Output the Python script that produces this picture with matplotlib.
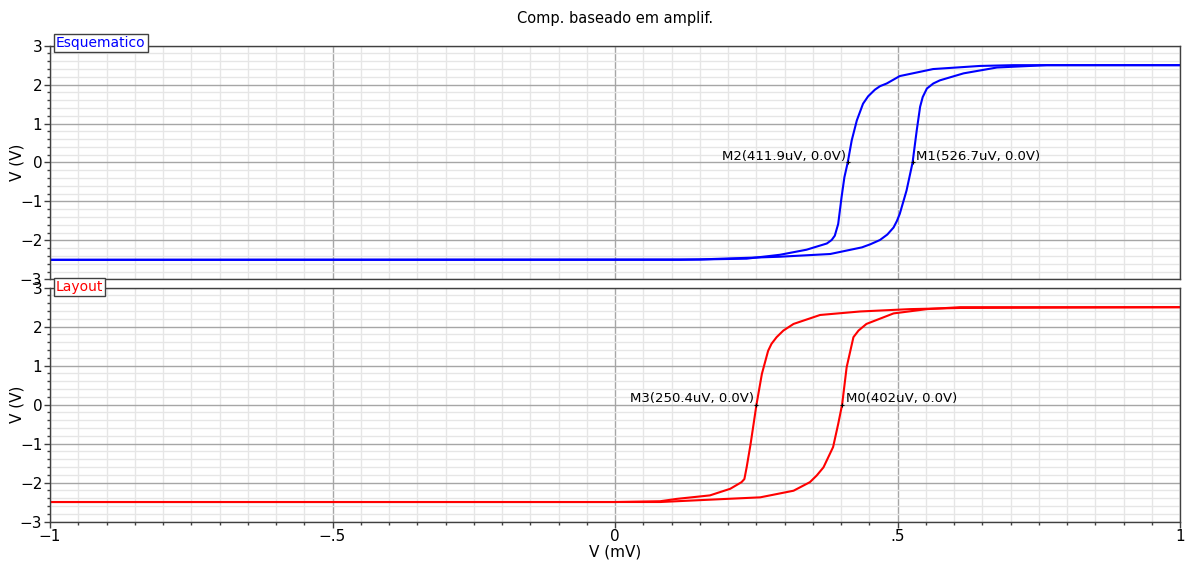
import matplotlib
matplotlib.use('Agg')
import matplotlib.pyplot as plt
from matplotlib.ticker import MultipleLocator, FixedLocator, FixedFormatter

# ---- data ----
title = "Comp. baseado em amplif."
x_label = "V (mV)"
y_label = "V (V)"

x_ticks = [-1.0, -0.5, 0.0, 0.5, 1.0]
x_tick_labels = ["\u22121", "\u2212.5", "0", ".5", "1"]
y_ticks = [-3, -2, -1, 0, 1, 2, 3]
y_tick_labels = ["\u22123", "\u22122", "\u22121", "0", "1", "2", "3"]

# Esquematico (blue) - rising branch (M1)
esq_rise_x = [-1.0, 0.15, 0.292, 0.381, 0.437, 0.452, 0.469, 0.482, 0.493, 0.499, 0.504,
              0.516, 0.5267, 0.534, 0.540, 0.5446, 0.552, 0.5634, 0.575, 0.617, 0.676,
              0.764, 1.0]
esq_rise_y = [-2.5, -2.49, -2.42, -2.35, -2.18, -2.10, -1.99, -1.85, -1.67, -1.50, -1.32,
              -0.72, 0.0, 0.82, 1.43, 1.68, 1.90, 2.03, 2.11, 2.29, 2.44,
              2.5, 2.5]
# Esquematico (blue) - falling branch (M2)
esq_fall_x = [-1.0, 0.115, 0.233, 0.292, 0.339, 0.375, 0.3835, 0.389, 0.395, 0.401, 0.406,
              0.4119, 0.419, 0.428, 0.439, 0.448, 0.460, 0.469, 0.481, 0.504, 0.563,
              0.646, 0.705, 1.0]
esq_fall_y = [-2.5, -2.5, -2.47, -2.37, -2.24, -2.08, -1.99, -1.88, -1.58, -0.89, -0.38,
              0.0, 0.57, 1.08, 1.51, 1.70, 1.87, 1.96, 2.03, 2.22, 2.40,
              2.48, 2.5, 2.5]

# Layout (red) - left branch (M3)
lay_left_x = [-1.0, 0.0, 0.08, 0.109, 0.168, 0.204, 0.224, 0.229, 0.233, 0.240, 0.2504,
              0.260, 0.271, 0.277, 0.286, 0.298, 0.316, 0.363, 0.434, 0.522, 0.611, 1.0]
lay_left_y = [-2.5, -2.5, -2.48, -2.42, -2.33, -2.16, -1.99, -1.91, -1.61, -1.01, 0.0,
              0.79, 1.38, 1.56, 1.73, 1.90, 2.07, 2.30, 2.39, 2.45, 2.48, 2.5]
# Layout (red) - right branch (M0)
lay_right_x = [-1.0, 0.08, 0.168, 0.257, 0.316, 0.345, 0.357, 0.369, 0.386, 0.395, 0.402,
               0.410, 0.422, 0.431, 0.445, 0.493, 0.552, 0.611, 1.0]
lay_right_y = [-2.5, -2.5, -2.44, -2.38, -2.21, -1.99, -1.82, -1.61, -1.09, -0.50, 0.0,
               0.96, 1.73, 1.90, 2.07, 2.34, 2.45, 2.5, 2.5]

# markers: (label, x in mV, y in V, label side)
esq_markers = [("M2(411.9uV, 0.0V)", 0.4119, 0.0, "left"),
               ("M1(526.7uV, 0.0V)", 0.5267, 0.0, "right")]
lay_markers = [("M3(250.4uV, 0.0V)", 0.2504, 0.0, "left"),
               ("M0(402uV, 0.0V)", 0.402, 0.0, "right")]

plt.rcParams['font.family'] = ['DejaVu Sans']

fig = plt.figure(figsize=(11.95, 5.63), dpi=100)
ax1 = fig.add_axes([50 / 1195, 1 - 279.3 / 563, 1130 / 1195, (279.3 - 45.7) / 563])
ax2 = fig.add_axes([50 / 1195, 1 - 521.5 / 563, 1130 / 1195, (521.5 - 287.7) / 563])

spine_col = '#404040'


def style(ax, show_x):
    ax.set_xlim(-1, 1)
    ax.set_ylim(-3, 3)
    ax.xaxis.set_major_locator(FixedLocator(x_ticks))
    ax.xaxis.set_minor_locator(MultipleLocator(0.05))
    ax.yaxis.set_major_locator(FixedLocator(y_ticks))
    ax.yaxis.set_major_formatter(FixedFormatter(y_tick_labels))
    ax.yaxis.set_minor_locator(MultipleLocator(0.2))
    ax.grid(which='minor', color='#e6e6e6', lw=1.0)
    ax.grid(which='major', color='#a6a6a6', lw=1.0)
    ax.set_axisbelow(True)
    for s in ax.spines.values():
        s.set_color(spine_col)
        s.set_linewidth(1.0)
    ax.tick_params(which='major', direction='out', length=4, width=1, color=spine_col,
                   labelsize=11, pad=1.5)
    ax.tick_params(which='minor', direction='out', length=2.5, width=1, color=spine_col)
    if show_x:
        ax.xaxis.set_major_formatter(FixedFormatter(x_tick_labels))
    else:
        ax.tick_params(axis='x', which='both', bottom=False, labelbottom=False)
    ax.set_ylabel(y_label, fontsize=11)
    ax.yaxis.set_label_coords(-0.0225, 0.5)


style(ax1, False)
style(ax2, True)

ax1.plot(esq_rise_x, esq_rise_y, color='#0000ff', lw=1.5)
ax1.plot(esq_fall_x, esq_fall_y, color='#0000ff', lw=1.5)
ax2.plot(lay_left_x, lay_left_y, color='#ff0000', lw=1.5)
ax2.plot(lay_right_x, lay_right_y, color='#ff0000', lw=1.5)


def markers(ax, mk):
    for name, mx, my, side in mk:
        ax.plot([mx], [my], marker='+', color='black', ms=3, mew=0.8)
        if side == "left":
            ax.annotate(name, xy=(mx, my), xytext=(-1.5, 2), textcoords='offset points',
                        ha='right', va='baseline', fontsize=9.5, color='black')
        else:
            ax.annotate(name, xy=(mx, my), xytext=(2.5, 2), textcoords='offset points',
                        ha='left', va='baseline', fontsize=9.5, color='black')


markers(ax1, esq_markers)
markers(ax2, lay_markers)

# tabs
ax1.annotate("Esquematico", xy=(0, 1), xycoords='axes fraction', xytext=(4.2, -1.2),
             textcoords='offset points', ha='left', va='baseline', color='#0000ff',
             fontsize=10, annotation_clip=False, zorder=10,
             bbox=dict(boxstyle='square,pad=0.15', fc='white', ec=spine_col, lw=1.0))
ax2.annotate("Layout", xy=(0, 1), xycoords='axes fraction', xytext=(4.2, -2.2),
             textcoords='offset points', ha='left', va='baseline', color='#ff0000',
             fontsize=10, annotation_clip=False, zorder=10,
             bbox=dict(boxstyle='square,pad=0.15', fc='white', ec=spine_col, lw=1.0))

fig.text(615 / 1195, 1 - 18 / 563, title, ha='center', va='center', fontsize=10.5)
ax2.set_xlabel(x_label, fontsize=11)
ax2.xaxis.set_label_coords(0.5, -0.10)

fig.savefig('out.png', dpi=100)
